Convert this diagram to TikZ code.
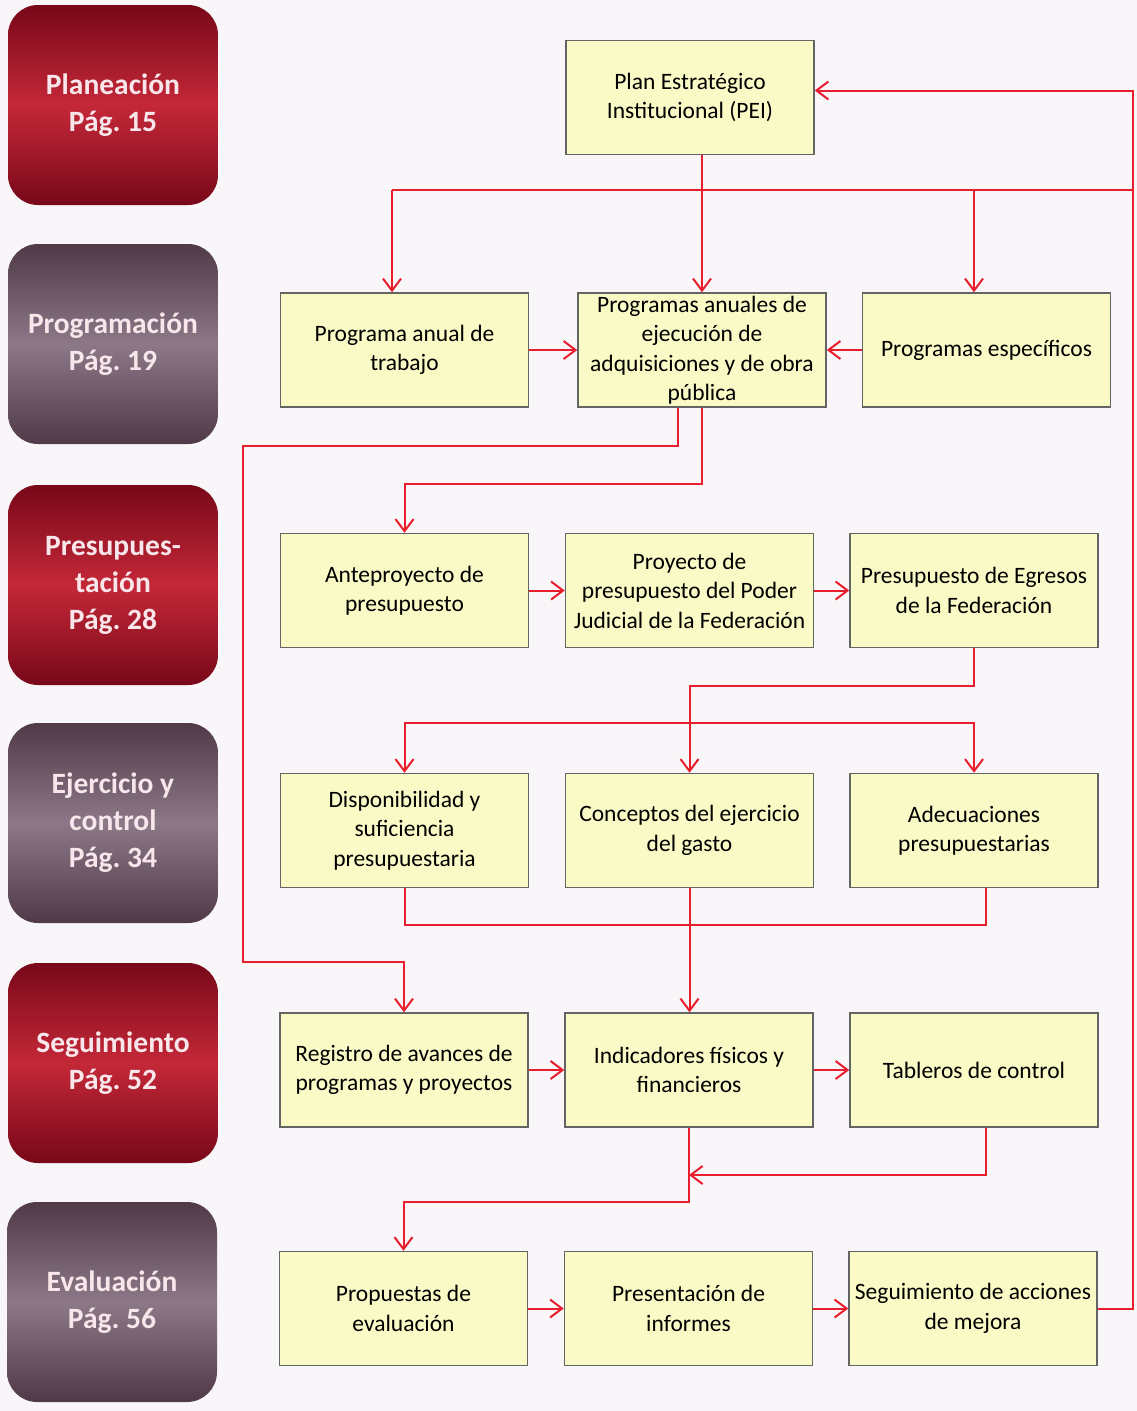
\documentclass[tikz,border=0pt]{standalone}
\usepackage{fontspec}
\setmainfont{Carlito}
\usetikzlibrary{arrows.meta,calc}
\definecolor{bg}{RGB}{249,246,250}
\definecolor{boxfill}{RGB}{250,250,198}
\definecolor{boxline}{RGB}{100,100,100}
\definecolor{conn}{RGB}{232,30,45}
\definecolor{redD}{RGB}{120,8,25}
\definecolor{redL}{RGB}{196,40,56}
\definecolor{greyD}{RGB}{80,58,72}
\definecolor{greyL}{RGB}{140,120,135}
\definecolor{stagetext}{RGB}{248,230,234}
\frenchspacing
\begin{document}
\begin{tikzpicture}[x=1pt,y=-1pt,
 stage/.style={rounded corners=30pt, minimum width=210pt, minimum height=200pt, align=center, text=stagetext, font=\bfseries\fontsize{29.5}{37}\selectfont, inner sep=0pt},
 redstage/.style={stage, top color=redD, bottom color=redD, middle color=redL},
 greystage/.style={stage, top color=greyD, bottom color=greyD, middle color=greyL},
 proc/.style={draw=boxline, line width=1.5pt, fill=boxfill, minimum width=248pt, minimum height=114pt, align=center, inner sep=0pt, font=\fontsize{23.5}{29.5}\selectfont, text=black},
 line/.style={draw=conn, line width=2pt},
 arr/.style={line, -{Straight Barb[length=12pt,width=18pt,line width=2pt]}},
]
\fill[bg] (0,0) rectangle (1137,1411);
\useasboundingbox (0,0) rectangle (1137,1411);

% stages
\node[redstage]  (s1) at (113,105)  {Planeación\\Pág. 15};
\node[greystage] (s2) at (113,344)  {Programación\\Pág. 19};
\node[redstage]  (s3) at (113,585)  {Presupues-\\tación\\Pág. 28};
\node[greystage] (s4) at (113,823)  {Ejercicio y\\control\\Pág. 34};
\node[redstage]  (s5) at (113,1063) {Seguimiento\\Pág. 52};
\node[greystage] (s6) at (112,1302) {Evaluación\\Pág. 56};

% process boxes
\node[proc] (pei)  at (690,97.5)   {Plan Estratégico\\Institucional (PEI)};
\node[proc] (pat)  at (404.5,350)  {Programa anual de\\trabajo};
\node[proc] (pa)   at (702,350)    {Programas anuales de\\ejecución de\\adquisiciones y de obra\\pública};
\node[proc] (pe)   at (986.5,350)  {Programas específicos};
\node[proc] (ante) at (404.5,590.5){Anteproyecto de\\presupuesto};
\node[proc] (proy) at (689.5,590.5){Proyecto de\\presupuesto del Poder\\Judicial de la Federación};
\node[proc] (pef)  at (974,590.5)  {Presupuesto de Egresos\\de la Federación};
\node[proc] (disp) at (404.5,830.5){Disponibilidad y\\suficiencia\\presupuestaria};
\node[proc] (conc) at (689.5,830.5){Conceptos del ejercicio\\del gasto};
\node[proc] (ade)  at (974,830.5)  {Adecuaciones\\presupuestarias};
\node[proc] (reg)  at (404,1070)   {Registro de avances de\\programas y proyectos};
\node[proc] (ind)  at (689,1070)   {Indicadores físicos y\\financieros};
\node[proc] (tab)  at (974,1070)   {Tableros de control};
\node[proc] (prop) at (403.5,1308.5){Propuestas de\\evaluación};
\node[proc] (pres) at (688.5,1308.5){Presentación de\\informes};
\node[proc] (sam)  at (973,1308.5) {Seguimiento de acciones\\de mejora};

% coordinates
\coordinate (busR) at (1133,190);
\coordinate (busL) at (392,190);
\coordinate (busE) at (974,190);
\coordinate (k1) at (243,446);
\coordinate (k2) at (243,962);
\coordinate (m) at (0,723);
\coordinate (n) at (0,1175);

% planeación -> programación
\draw[arr] (pei.south -| pa.north) -- (pa.north);
\draw[line] (busR) -- (busL);
\draw[arr] (busL) -- (busL |- pat.north);
\draw[arr] (busE) -- (busE |- pe.north);
\draw[arr] (sam.east) -| (busR) |- ($(pei.east)+(0,-7)$);

\draw[arr] (pat.east) -- (pa.west);
\draw[arr] (pe.west) -- (pa.east);

% programación -> presupuestación / seguimiento
\draw[arr] ($(pa.south)+(-24,0)$) |- (k1) -- (k2) -| (reg.north);
\draw[arr] (pa.south) -- ++(0,76) -| (ante.north);

\draw[arr] (ante.east) -- (proy.west);
\draw[arr] (proy.east) -- (pef.west);

% presupuestación -> ejercicio
\draw[arr] (pef.south) -- ++(0,37.5) -| (conc.north);
\draw[arr] (ade.north |- m) -| (disp.north);
\draw[arr] (disp.north |- m) -| (ade.north);
\draw[line] (disp.south) -- ++(0,37) -| ($(ade.south)+(12,0)$);

% ejercicio -> seguimiento
\draw[arr] (conc.south) -- (conc.south |- ind.north);
\draw[arr] (reg.east) -- (ind.west);
\draw[arr] (ind.east) -- (tab.west);
\draw[arr] ($(tab.south)+(12,0)$) |- (ind.south |- n);
\draw[arr] (ind.south) -- ++(0,74) -| (prop.north);

% evaluación
\draw[arr] (prop.east) -- (pres.west);
\draw[arr] (pres.east) -- (sam.west);
\end{tikzpicture}
\end{document}
